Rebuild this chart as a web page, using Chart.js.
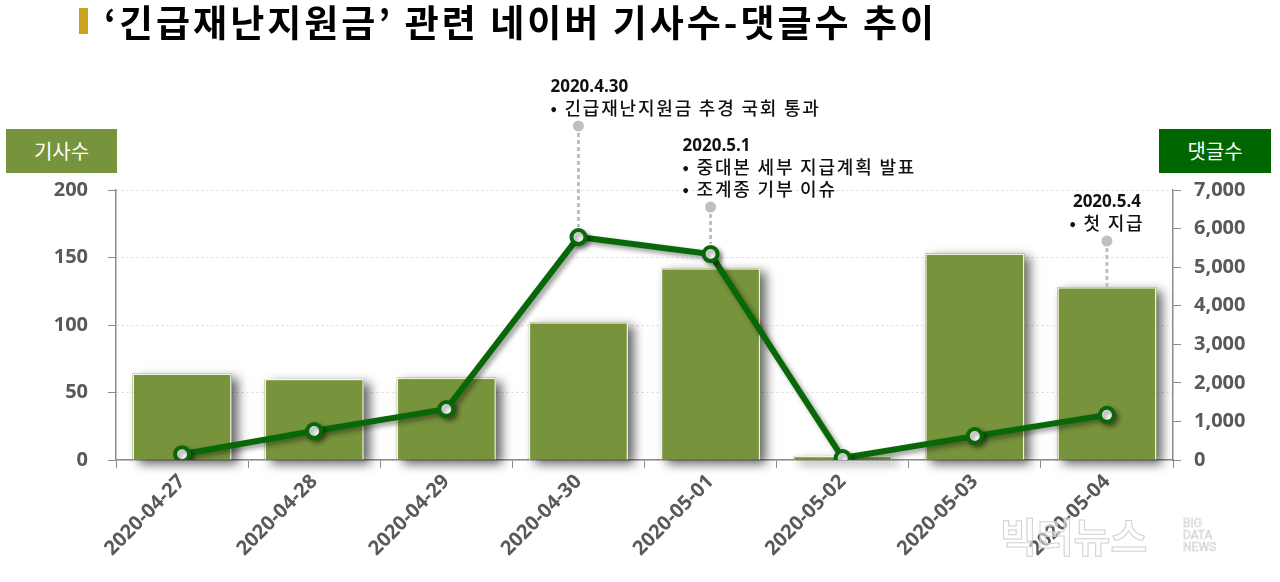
<!DOCTYPE html>
<html>
<head>
<meta charset="utf-8">
<script src="https://cdn.jsdelivr.net/npm/chart.js@4"></script>
<style>
  body { margin: 0; background: #fff; }
  #wrap { position: relative; width: 1280px; height: 582px; overflow: hidden; }
  #my-chart { position: absolute; left: 0; top: 0; }
  .title-bar { position: absolute; left: 79px; top: 8px; width: 9px; height: 26px; background: #c9a21e; }
  .title { position: absolute; left: 104px; top: 0; height: 42px; line-height: 42px; font-family: 'Noto Sans CJK KR', sans-serif; font-weight: 700; font-size: 37px; letter-spacing: 3px; color: #000; white-space: nowrap; }
  .axis-box { position: absolute; top: 129px; height: 44px; line-height: 44px; text-align: center; color: #fff; font-family: 'Noto Sans CJK KR', sans-serif; font-size: 20px; }
  .watermark { position: absolute; left: 1000px; top: 506px; font-family: 'Noto Sans CJK KR', sans-serif; font-size: 40px; font-weight: 700; color: rgba(255,255,255,0.5); -webkit-text-stroke: 1px #d0d0d0; white-space: nowrap; }
  .watermark-en { position: absolute; left: 1183px; top: 517px; font-family: 'Liberation Sans Narrow', 'Roboto', sans-serif; font-size: 12px; line-height: 12px; color: rgba(255,255,255,0.5); -webkit-text-stroke: 0.6px #cfcfcf; }
</style>
</head>
<body>
<div id="wrap">
  <canvas id="my-chart" width="1280" height="582"></canvas>
  <div class="title-bar"></div>
  <div class="title">‘긴급재난지원금’ 관련 네이버 기사수-댓글수 추이</div>
  <div class="axis-box" style="left:6px;width:111px;background:#77933c;">기사수</div>
  <div class="axis-box" style="left:1159px;width:112px;background:#006600;">댓글수</div>
  <div class="watermark">빅터뉴스</div>
  <div class="watermark-en">BIG<br>DATA<br>NEWS</div>
</div>
<script>
const dates = ["2020-04-27", "2020-04-28", "2020-04-29", "2020-04-30", "2020-05-01", "2020-05-02", "2020-05-03", "2020-05-04"];
const article_counts = [64, 60, 61, 102, 142, 3, 153, 128];
const comment_counts = [150, 750, 1320, 5780, 5340, 50, 620, 1170];

// notes above the chart
const note_index = [3, 4, 7];
const note_dates = ["2020.4.30", "2020.5.1", "2020.5.4"];
const note_lines = [
    ["• 긴급재난지원금 추경 국회 통과"],
    ["• 중대본 세부 지급계획 발표", "• 조계종 기부 이슈"],
    ["• 첫 지급"]
];

const bar_color = "#77933c";
const line_color = "#086808";
const tick_color = "#595959";
const axis_color = "#8c8c8c";

Chart.defaults.font.family = "'Open Sans', 'Noto Sans CJK KR', sans-serif";

const shadow_plugin = {
    id: "shadows",
    beforeDatasetDraw(chart, args) {
        const ctx = chart.ctx;
        if (args.meta.type === "bar") {
            // bars clip themselves, so paint the shadow first
            ctx.save();
            ctx.shadowColor = "rgba(0,0,0,0.6)";
            ctx.shadowBlur = 10;
            ctx.shadowOffsetX = 6;
            ctx.shadowOffsetY = 4;
            ctx.fillStyle = bar_color;
            args.meta.data.forEach((bar) => {
                const { x, y, base, width } = bar.getProps(["x", "y", "base", "width"], true);
                ctx.fillRect(x - width / 2, Math.min(y, base), width, Math.abs(base - y));
            });
            ctx.restore();
        }
        ctx.save();
        if (args.meta.type === "line") {
            ctx.shadowColor = "rgba(0,0,0,0.4)";
            ctx.shadowBlur = 5;
            ctx.shadowOffsetX = 3;
            ctx.shadowOffsetY = 3;
        }
    },
    afterDatasetDraw(chart) {
        chart.ctx.restore();
    }
};

const notes_plugin = {
    id: "notes",
    afterDatasetsDraw(chart) {
        const ctx = chart.ctx;
        const x = chart.scales.x, y = chart.scales.y, y1 = chart.scales.y1;
        const dot_y = [126, 207, 241];
        const align = ["left", "left", "center"];
        note_index.forEach((idx, n) => {
            const px = x.getPixelForValue(idx);
            const bar_top = y.getPixelForValue(article_counts[idx]);
            const line_top = y1.getPixelForValue(comment_counts[idx]) - 10;
            const end_y = Math.min(bar_top, line_top);
            ctx.save();
            ctx.strokeStyle = "#bfbfbf";
            ctx.lineWidth = 3;
            ctx.setLineDash([4, 3]);
            ctx.beginPath();
            ctx.moveTo(px, dot_y[n]);
            ctx.lineTo(px, end_y);
            ctx.stroke();
            ctx.setLineDash([]);
            ctx.fillStyle = "#bfbfbf";
            ctx.beginPath();
            ctx.arc(px, dot_y[n], 5.5, 0, Math.PI * 2);
            ctx.fill();

            const tx = align[n] === "left" ? px - 28 : px;
            ctx.textAlign = align[n];
            ctx.textBaseline = "middle";
            ctx.fillStyle = "#111";
            const lines = note_lines[n];
            ctx.font = "500 18px 'Noto Sans CJK KR', sans-serif";
            ctx.letterSpacing = "1.8px";
            lines.forEach((t, j) => {
                ctx.fillText(t, tx, dot_y[n] - 18 - (lines.length - 1 - j) * 22);
            });
            ctx.letterSpacing = "0px";
            ctx.font = "bold 17px 'Open Sans', sans-serif";
            ctx.fillText(note_dates[n], tx, dot_y[n] - 18 - lines.length * 22 + 1);
            ctx.restore();
        });
    }
};

const my_chart = new Chart("my-chart", {
    data: {
        labels: dates,
        datasets: [{
            type: "line",
            label: "댓글수",
            data: comment_counts,
            yAxisID: "y1",
            borderColor: line_color,
            borderWidth: 6,
            pointRadius: 7,
            pointBorderWidth: 4,
            pointBackgroundColor: "#fff",
            pointBorderColor: line_color,
            tension: 0,
            order: 1
        }, {
            type: "bar",
            label: "기사수",
            data: article_counts,
            yAxisID: "y",
            backgroundColor: bar_color,
            borderColor: "#f2f2e0",
            borderWidth: 1.5,
            categoryPercentage: 1,
            barPercentage: 0.75,
            order: 2
        }]
    },
    options: {
        responsive: false,
        animation: false,
        layout: { padding: { top: 190, left: 0, right: 0, bottom: 0 } },
        plugins: {
            legend: { display: false },
            tooltip: { enabled: false }
        },
        scales: {
            x: {
                afterFit: (s) => { s.height = 122; },
                grid: { display: true, drawOnChartArea: false, tickLength: 8, tickColor: axis_color, offset: true },
                border: { color: axis_color, width: 1.5 },
                ticks: {
                    autoSkip: false, maxRotation: 45, minRotation: 45, padding: 2,
                    color: tick_color, font: { size: 20, weight: "bold" }
                }
            },
            y: {
                position: "left",
                min: 0, max: 200,
                afterFit: (s) => { s.width = 116; },
                grid: { color: "#d9d9d9", tickColor: axis_color, tickLength: 8, tickBorderDash: [], lineWidth: 1 },
                border: { color: axis_color, width: 1.5, dash: [2, 3] },
                ticks: { stepSize: 50, padding: 20, color: tick_color, font: { size: 20, weight: "bold" } }
            },
            y1: {
                position: "right",
                min: 0, max: 7000,
                afterFit: (s) => { s.width = 107; },
                grid: { drawOnChartArea: false, tickColor: axis_color, tickLength: 8 },
                border: { color: axis_color, width: 1.5 },
                ticks: {
                    stepSize: 1000, padding: 13, color: tick_color, font: { size: 20, weight: "bold" },
                    callback: (v) => v.toLocaleString("en-US")
                }
            }
        }
    },
    plugins: [shadow_plugin, notes_plugin]
});
</script>
</body>
</html>
